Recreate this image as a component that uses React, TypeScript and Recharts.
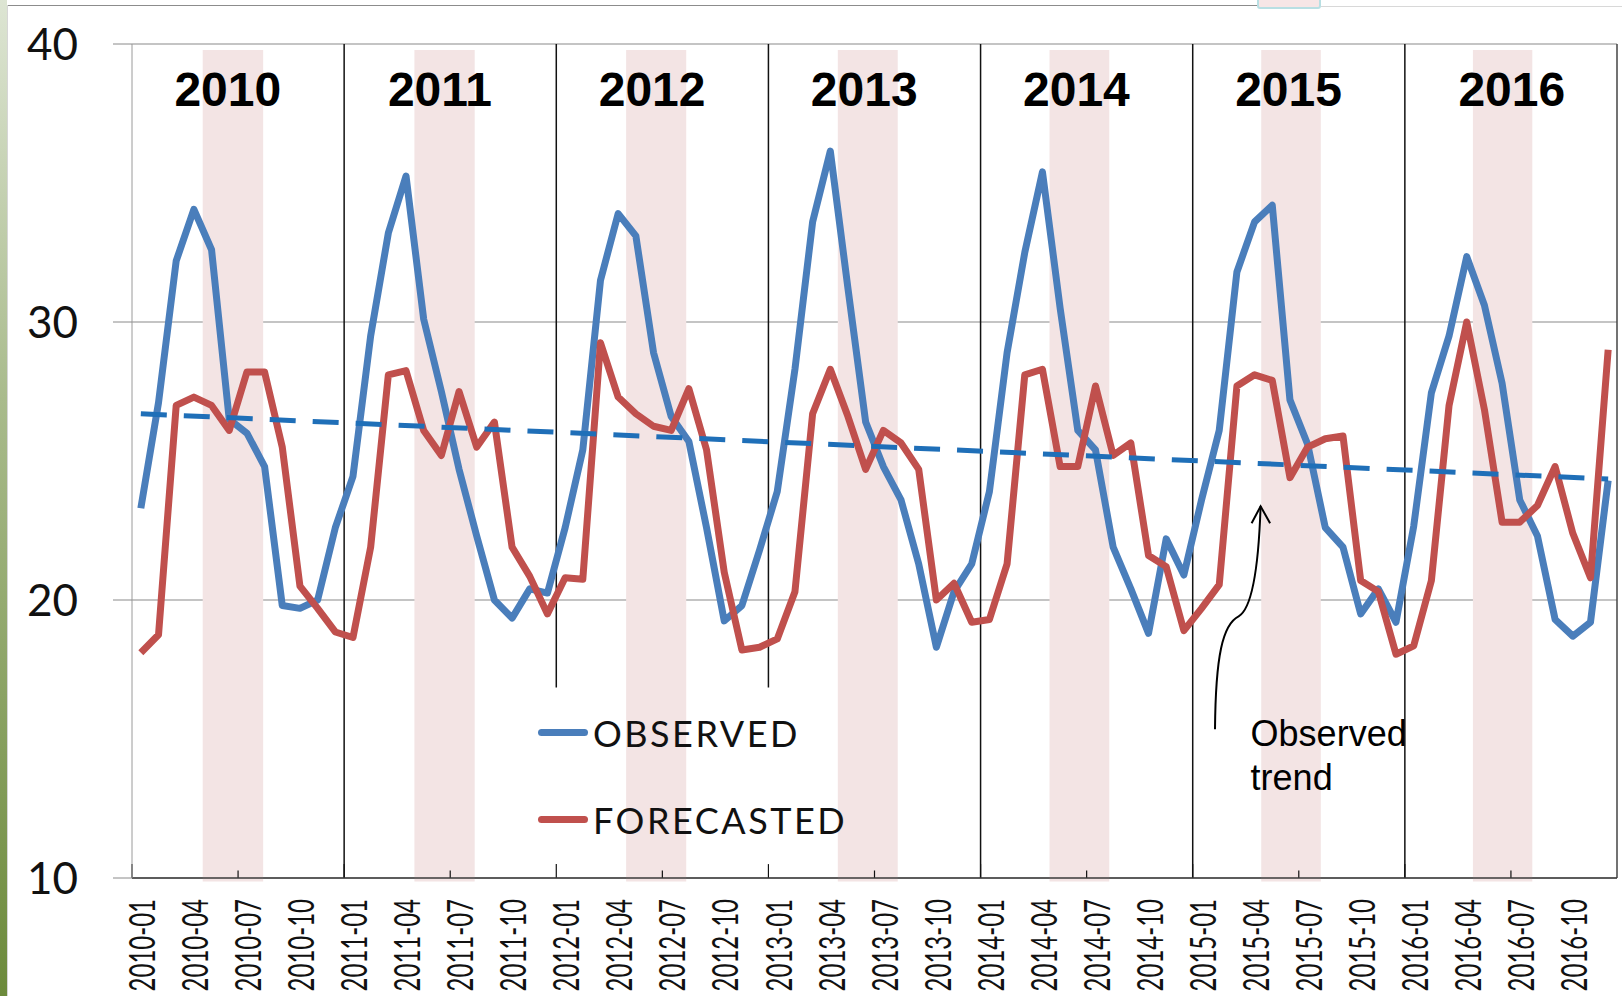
import React from "react";
import {
  LineChart,
  Line,
  XAxis,
  YAxis,
  CartesianGrid,
  Legend,
  ReferenceArea,
  ReferenceLine,
  ReferenceDot,
} from "recharts";

// month labels
const years = ["2010", "2011", "2012", "2013", "2014", "2015", "2016"];
const monthNums = ["01", "02", "03", "04", "05", "06", "07", "08", "09", "10", "11", "12"];
const categories = years.flatMap((y) => monthNums.map((m) => `${y}-${m}`));

const observed = [
  23.3, 27.1, 32.2, 34.05, 32.6, 26.5, 26.0, 24.8, 19.8, 19.7, 20.0, 22.6,
  24.45, 29.5, 33.2, 35.25, 30.1, 27.5, 24.7, 22.3, 20.0, 19.35, 20.4, 20.25,
  22.6, 25.4, 31.5, 33.9, 33.1, 28.9, 26.6, 25.7, 22.6, 19.25, 19.8, 21.8,
  23.9, 28.3, 33.6, 36.15, 31.2, 26.4, 24.8, 23.6, 21.3, 18.3, 20.3, 21.3,
  23.9, 28.9, 32.5, 35.4, 30.5, 26.1, 25.4, 21.9, 20.4, 18.8, 22.2, 20.9,
  23.6, 26.1, 31.8, 33.6, 34.2, 27.2, 25.6, 22.6, 21.9, 19.5, 20.4, 19.2,
  22.65, 27.45, 29.5, 32.35, 30.6, 27.8, 23.6, 22.3, 19.3, 18.7, 19.2, 24.3,
];

const forecasted = [
  18.1, 18.75, 27.0, 27.3, 27.0, 26.1, 28.2, 28.2, 25.5, 20.5, 19.7, 18.85,
  18.65, 21.9, 28.1, 28.25, 26.1, 25.2, 27.5, 25.5, 26.4, 21.9, 20.85, 19.5,
  20.8, 20.75, 29.25, 27.3, 26.7, 26.25, 26.1, 27.6, 25.4, 21.0, 18.2, 18.3,
  18.6, 20.3, 26.7, 28.3, 26.6, 24.7, 26.1, 25.65, 24.7, 20.0, 20.6, 19.2,
  19.3, 21.3, 28.1, 28.3, 24.8, 24.8, 27.7, 25.2, 25.65, 21.6, 21.2, 18.9,
  19.7, 20.55, 27.7, 28.1, 27.9, 24.4, 25.5, 25.8, 25.9, 20.7, 20.3, 18.05,
  18.35, 20.7, 27.0, 30.0, 26.85, 22.8, 22.8, 23.4, 24.8, 22.4, 20.8, 29.0,
];

// observed trend line end points (month index, value)
const trendStart = { x: 0, y: 26.7 };
const trendEnd = { x: 83, y: 24.35 };

const seriesOrder = ["OBSERVED", "FORECASTED"];
const yTicks = [10, 20, 30, 40];
const xTicks = categories.map((_, i) => i).filter((i) => i % 3 === 0);

const data = categories.map((month, i) => ({
  idx: i,
  month,
  observed: observed[i],
  forecasted: forecasted[i],
}));

const BLUE = "#4a7ebb";
const RED = "#c0504d";
const TREND = "#1f6fb8";
const BAND = "#f3e4e4";

const MonthTick = ({ x, y, payload }: any) => (
  <text
    transform={`translate(${x},${y + 19}) rotate(-90) scale(1,1.55)`}
    textAnchor="end"
    dominantBaseline="central"
    fontFamily="Lato"
    fontSize={24}
    fill="#111"
  >
    {categories[payload.value]}
  </text>
);

const renderLegend = (props: any) => {
  const items = [...(props.payload || [])].sort(
    (a: any, b: any) => seriesOrder.indexOf(a.value) - seriesOrder.indexOf(b.value)
  );
  return (
    <div style={{ fontFamily: "Lato", fontSize: 36, letterSpacing: 2.5, color: "#111" }}>
      {items.map((entry: any) => (
        <div key={entry.value} style={{ display: "flex", alignItems: "center", height: 87 }}>
          <span
            style={{
              display: "inline-block",
              width: 50,
              height: 7,
              borderRadius: 4,
              background: entry.color,
              marginRight: 5,
            }}
          />
          <span>{entry.value}</span>
        </div>
      ))}
    </div>
  );
};

const TrendNote = ({ cx, cy }: any) => (
  <g>
    <path
      d={`M${cx - 45.6},${cy + 223} C${cx - 45},${cy + 150} ${cx - 38},${cy + 118} ${cx - 22},${cy + 110} C${cx - 8},${cy + 102} ${cx - 2},${cy + 60} ${cx},${cy}`}
      fill="none"
      stroke="#000"
      strokeWidth={2}
    />
    <path
      d={`M${cx - 9},${cy + 17} L${cx},${cy} L${cx + 9.5},${cy + 17}`}
      fill="none"
      stroke="#000"
      strokeWidth={2}
    />
    <text fontFamily="Liberation Sans, Arial" fontSize={36} fill="#000">
      <tspan x={cx - 10} y={cy + 240}>Observed</tspan>
      <tspan x={cx - 10} y={cy + 284}>trend</tspan>
    </text>
  </g>
);

export default function App() {
  return (
    <div
      style={{
        position: "fixed",
        left: 0,
        top: 0,
        width: 1622,
        height: 996,
        background: "#fff",
        overflow: "hidden",
      }}
    >
      {/* slide decorations */}
      <div
        style={{
          position: "absolute",
          left: 0,
          top: 0,
          width: 7,
          height: 996,
          background: "linear-gradient(#dde5d3, #a9bb8c 40%, #6c8a3b)",
        }}
      />
      <div style={{ position: "absolute", left: 7, top: 5, bottom: 0, borderLeft: "1px solid #d6d6d6" }} />
      <div style={{ position: "absolute", left: 8, top: 5, width: 1249, borderTop: "1.5px solid #8c8c8c" }} />
      <div style={{ position: "absolute", left: 1321, top: 6, right: 0, borderTop: "1.5px solid #d8d8d8" }} />
      <div
        style={{
          position: "absolute",
          left: 1257,
          top: -3,
          width: 60,
          height: 8,
          border: "2px solid #b8dfe3",
          background: "#f6e6e6",
          borderRadius: "0 0 3px 3px",
        }}
      />

      <div style={{ position: "absolute", left: 0, top: 0 }}>
        <LineChart
          width={1622}
          height={996}
          data={data}
          margin={{ top: 44, right: 5, bottom: 0, left: 0 }}
        >
          {years.map((y, k) => (
            <ReferenceArea
              key={`band-${y}`}
              x1={k * 12 + 3.5 - 0.025 * k}
              x2={k * 12 + 6.92 - 0.035 * k}
              y1={9.87}
              y2={39.78}
              fill={BAND}
              fillOpacity={1}
              stroke="none"
              ifOverflow="visible"
            />
          ))}
          <CartesianGrid vertical={false} stroke="#8a8a8a" strokeWidth={1.2} />
          <XAxis
            dataKey="idx"
            type="number"
            domain={[-0.5, 83.5]}
            allowDataOverflow
            ticks={xTicks}
            interval={0}
            tick={<MonthTick />}
            tickLine={false}
            tickSize={0}
            axisLine={{ stroke: "#3a3a3a", strokeWidth: 1.5 }}
            height={118}
          />
          <YAxis
            type="number"
            domain={[10, 40]}
            ticks={yTicks}
            width={132}
            tickSize={19}
            tickMargin={35}
            tickLine={{ stroke: "#8a8a8a" }}
            axisLine={{ stroke: "#9a9a9a" }}
            tick={{ fill: "#111", fontSize: 44, fontFamily: "Lato" }}
          />

          {/* year separators */}
          {years.slice(1).map((y, k) => {
            const xv = (k + 1) * 12 - 0.5;
            const short = y === "2012" || y === "2013";
            return short ? (
              <ReferenceLine
                key={`sep-${y}`}
                segment={[
                  { x: xv, y: 16.85 },
                  { x: xv, y: 40 },
                ]}
                stroke="#111"
                strokeWidth={1.5}
              />
            ) : (
              <ReferenceLine key={`sep-${y}`} x={xv} stroke="#111" strokeWidth={1.5} />
            );
          })}
          {years.map((y, k) => (
            <ReferenceLine
              key={`tick-a-${y}`}
              segment={[
                { x: k * 12 - 0.5, y: 10 },
                { x: k * 12 - 0.5, y: 10.5 },
              ]}
              stroke="#111"
              strokeWidth={1.2}
            />
          ))}
          {years.map((y, k) => (
            <ReferenceLine
              key={`tick-b-${y}`}
              segment={[
                { x: k * 12 + 5.5, y: 10 },
                { x: k * 12 + 5.5, y: 10.27 },
              ]}
              stroke="#111"
              strokeWidth={1.2}
            />
          ))}
          <ReferenceLine x={83.5} stroke="#444" strokeWidth={1.5} />

          <Line
            type="linear"
            dataKey="observed"
            name="OBSERVED"
            stroke={BLUE}
            strokeWidth={7}
            strokeLinejoin="round"
            dot={false}
            activeDot={false}
            isAnimationActive={false}
          />
          <Line
            type="linear"
            dataKey="forecasted"
            name="FORECASTED"
            stroke={RED}
            strokeWidth={7}
            strokeLinejoin="round"
            dot={false}
            activeDot={false}
            isAnimationActive={false}
          />
          <ReferenceLine
            segment={[trendStart, trendEnd]}
            stroke={TREND}
            strokeWidth={5}
            strokeDasharray="26 17"
          />

          {years.map((y, k) => (
            <ReferenceDot
              key={`yl-${y}`}
              x={k * 12 + (k === 6 ? 5.55 : 4.92)}
              y={38.36}
              r={1}
              shape={(p: any) => (
                <text
                  x={p.cx}
                  y={p.cy}
                  textAnchor="middle"
                  dominantBaseline="central"
                  fontFamily="Liberation Sans, Arial"
                  fontWeight="bold"
                  fontSize={48}
                  fill="#000"
                >
                  {y}
                </text>
              )}
            />
          ))}
          <ReferenceDot x={63.34} y={23.37} r={1} shape={<TrendNote />} />

          <Legend
            layout="vertical"
            align="center"
            verticalAlign="middle"
            content={renderLegend}
            wrapperStyle={{ left: 538, top: 689, width: 340 }}
          />
        </LineChart>
      </div>
    </div>
  );
}
